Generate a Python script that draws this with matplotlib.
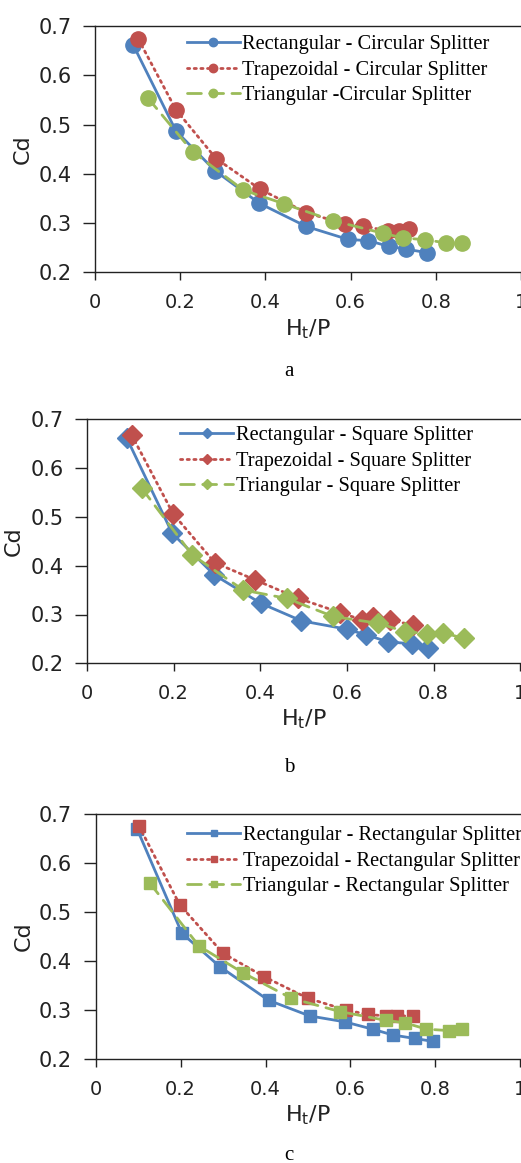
import matplotlib
matplotlib.use("Agg")
import matplotlib.pyplot as plt

# panel a - circular splitter
a_rect_x = [0.090, 0.190, 0.282, 0.386, 0.496, 0.593, 0.642, 0.689, 0.730, 0.779]
a_rect_y = [0.661, 0.487, 0.406, 0.340, 0.293, 0.267, 0.264, 0.253, 0.247, 0.240]
a_trap_x = [0.102, 0.190, 0.284, 0.387, 0.496, 0.587, 0.630, 0.687, 0.714, 0.736]
a_trap_y = [0.673, 0.530, 0.431, 0.369, 0.321, 0.298, 0.295, 0.283, 0.283, 0.287]
a_tri_x = [0.124, 0.229, 0.348, 0.444, 0.558, 0.677, 0.722, 0.775, 0.823, 0.861]
a_tri_y = [0.554, 0.445, 0.367, 0.339, 0.305, 0.279, 0.270, 0.266, 0.260, 0.260]

# panel b - square splitter
b_rect_x = [0.092, 0.197, 0.294, 0.401, 0.495, 0.599, 0.645, 0.695, 0.749, 0.788]
b_rect_y = [0.661, 0.466, 0.381, 0.323, 0.287, 0.270, 0.258, 0.244, 0.240, 0.231]
b_trap_x = [0.103, 0.199, 0.295, 0.388, 0.488, 0.584, 0.634, 0.661, 0.699, 0.753]
b_trap_y = [0.668, 0.506, 0.406, 0.371, 0.333, 0.304, 0.289, 0.294, 0.289, 0.278]
b_tri_x = [0.126, 0.243, 0.361, 0.461, 0.568, 0.672, 0.734, 0.784, 0.822, 0.869]
b_tri_y = [0.559, 0.422, 0.350, 0.333, 0.296, 0.282, 0.265, 0.261, 0.263, 0.251]

# panel c - rectangular splitter
c_rect_x = [0.098, 0.203, 0.292, 0.407, 0.504, 0.586, 0.652, 0.700, 0.751, 0.794]
c_rect_y = [0.669, 0.457, 0.389, 0.320, 0.288, 0.276, 0.261, 0.249, 0.242, 0.236]
c_trap_x = [0.102, 0.198, 0.300, 0.397, 0.500, 0.590, 0.641, 0.684, 0.710, 0.747]
c_trap_y = [0.676, 0.515, 0.416, 0.368, 0.324, 0.300, 0.291, 0.288, 0.288, 0.288]
c_tri_x = [0.127, 0.243, 0.347, 0.461, 0.575, 0.683, 0.728, 0.779, 0.832, 0.863]
c_tri_y = [0.560, 0.431, 0.376, 0.324, 0.297, 0.279, 0.274, 0.261, 0.258, 0.261]

x_ticks = [0, 0.2, 0.4, 0.6, 0.8, 1]
x_tick_labels = ["0", "0.2", "0.4", "0.6", "0.8", "1"]
y_ticks = [0.2, 0.3, 0.4, 0.5, 0.6, 0.7]
y_tick_labels = ["0.2", "0.3", "0.4", "0.5", "0.6", "0.7"]

BLUE = "#4F81BD"
RED = "#C0504D"
GREEN = "#9BBB59"
TICK_FONT = "DejaVu Sans"
SERIF = "Liberation Serif"

W, H = 521, 1163


def draw_panel(ax, series, marker, msize, splitter, tri_sep, letter, letter_y,
               leg_y):
    styles = [
        ("Rectangular - ", BLUE, "-"),
        ("Trapezoidal - ", RED, (0, (0.8, 1.6))),
        ("Triangular" + tri_sep, GREEN, (0, (5, 3))),
    ]
    for (x, y), (name, color, ls) in zip(series, styles):
        ax.plot(x, y, color=color, linestyle=ls, linewidth=2,
                marker=marker, markersize=msize, markerfacecolor=color,
                markeredgecolor=color, dash_capstyle="round",
                label=name + splitter + " Splitter")

    ax.set_xlim(0, 1)
    ax.set_ylim(0.2, 0.7)
    ax.set_xticks(x_ticks, x_tick_labels, fontsize=14, family=TICK_FONT)
    ax.set_yticks(y_ticks, y_tick_labels, fontsize=15, family=TICK_FONT)
    ax.tick_params(axis="y", length=9, width=1, pad=8, colors="#222222")
    ax.tick_params(axis="x", length=6, width=1, pad=9, colors="#222222")
    ax.spines["right"].set_visible(False)
    for s in ("left", "bottom", "top"):
        ax.spines[s].set_color("#222222")
        ax.spines[s].set_linewidth(1)

    ax.set_ylabel("Cd", fontsize=16, family=TICK_FONT, color="#222222")
    ax.yaxis.set_label_coords(-0.147, 0.5)
    ax.text(0.5, -0.23, r"H$_\mathregular{t}$/P", transform=ax.transAxes,
            ha="center", va="center", fontsize=16, family=TICK_FONT,
            color="#222222")

    ax.legend(loc="upper left", bbox_to_anchor=(0.215, leg_y), frameon=False,
              borderaxespad=0, borderpad=0, handlelength=2.6,
              handletextpad=0.12, labelspacing=0.3, markerscale=0.55,
              prop={"family": SERIF, "size": 14.7})

    ax.figure.text(289 / W, 1 - letter_y / H, letter, ha="center",
                   va="center", fontsize=15, family=SERIF)


fig = plt.figure(figsize=(W / 100, H / 100), dpi=100)

ax_a = fig.add_axes([95 / W, 1 - 272.3 / H, 426 / W, 246.3 / H])
ax_b = fig.add_axes([87 / W, 1 - 663.3 / H, 433.3 / W, 244 / H])
ax_c = fig.add_axes([95.7 / W, 1 - 1059 / H, 424.6 / W, 244.7 / H])

draw_panel(ax_a, [(a_rect_x, a_rect_y), (a_trap_x, a_trap_y), (a_tri_x, a_tri_y)],
           "o", 11, "Circular", " -", "a", 372, 0.963)
draw_panel(ax_b, [(b_rect_x, b_rect_y), (b_trap_x, b_trap_y), (b_tri_x, b_tri_y)],
           "D", 10, "Square", " - ", "b", 768, 0.972)
draw_panel(ax_c, [(c_rect_x, c_rect_y), (c_trap_x, c_trap_y), (c_tri_x, c_tri_y)],
           "s", 9, "Rectangular", " - ", "c", 1155, 0.952)

fig.savefig("out.png", dpi=100)
